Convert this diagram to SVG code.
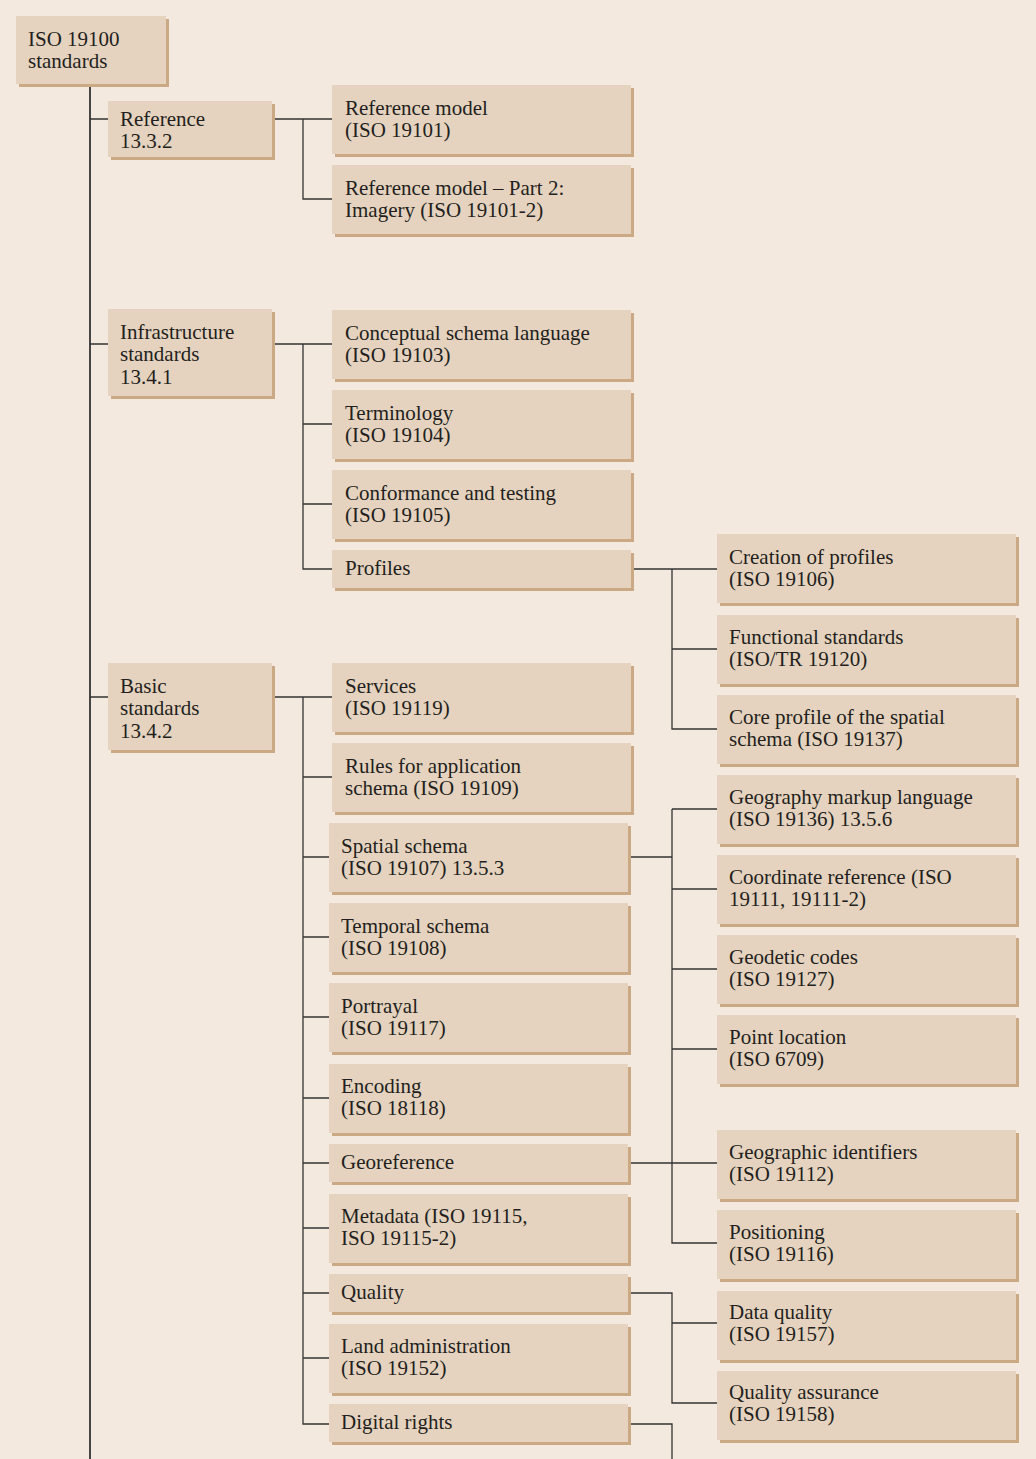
<svg xmlns="http://www.w3.org/2000/svg" width="1036" height="1459" viewBox="0 0 1036 1459">
  <style>
    .bg { fill: #f3e9df; }
    .sh { fill: #cba984; }
    .bx { fill: #e5d3bf; }
    text { font-family: "Liberation Serif", "Times New Roman", serif; font-size: 21px; fill: #231f20; }
    .ln { stroke: #333333; stroke-width: 1.3; fill: none; }
    .trunk { stroke: #333333; stroke-width: 1.8; fill: none; }
  </style>

  <rect class="bg" x="0" y="0" width="1036" height="1459"/>

  <!-- connectors -->
  <g id="connectors">
    <path class="trunk" d="M90 84 V1459"/>
    <path class="ln" d="M90 119 H108 M90 344 H108 M90 697 H108"/>
    <!-- reference branch -->
    <path class="ln" d="M272 119 H332 M303 119 V199 H332"/>
    <!-- infrastructure branch -->
    <path class="ln" d="M272 344 H332 M303 344 V569 H332 M303 424 H332 M303 504 H332"/>
    <!-- profiles branch -->
    <path class="ln" d="M631 569 H717 M672 569 V729 H717 M672 649 H717"/>
    <!-- basic branch -->
    <path class="ln" d="M272 697 H332 M303 697 V1424 H329 M303 777 H332 M303 857 H329 M303 937 H329 M303 1017 H329 M303 1098 H329 M303 1163 H329 M303 1228 H329 M303 1293 H329 M303 1358 H329"/>
    <!-- spatial / georeference branch -->
    <path class="ln" d="M628 857 H672 M672 809 V1243 H717 M672 809 H717 M672 889 H717 M672 969 H717 M672 1049 H717 M628 1163 H717"/>
    <!-- quality branch -->
    <path class="ln" d="M628 1293 H672 V1403 H717 M672 1323 H717"/>
    <!-- digital rights branch -->
    <path class="ln" d="M628 1424 H672 V1459"/>
  </g>

  <!-- root -->
  <g id="n-root">
    <rect class="sh" x="19" y="19" width="150" height="68"/>
    <rect class="bx" x="16" y="16" width="150" height="68"/>
    <text x="28" y="46">ISO 19100</text>
    <text x="28" y="68">standards</text>
  </g>

  <!-- first level -->
  <g id="n-reference">
    <rect class="sh" x="111" y="104" width="164" height="56"/>
    <rect class="bx" x="108" y="101" width="164" height="56"/>
    <text x="120" y="126">Reference</text>
    <text x="120" y="148">13.3.2</text>
  </g>
  <g id="n-infrastructure">
    <rect class="sh" x="111" y="312" width="164" height="87"/>
    <rect class="bx" x="108" y="309" width="164" height="87"/>
    <text x="120" y="339">Infrastructure</text>
    <text x="120" y="361">standards</text>
    <text x="120" y="384">13.4.1</text>
  </g>
  <g id="n-basic">
    <rect class="sh" x="111" y="666" width="164" height="87"/>
    <rect class="bx" x="108" y="663" width="164" height="87"/>
    <text x="120" y="693">Basic</text>
    <text x="120" y="715">standards</text>
    <text x="120" y="738">13.4.2</text>
  </g>

  <!-- reference children -->
  <g id="n-19101">
    <rect class="sh" x="335" y="88" width="299" height="69"/>
    <rect class="bx" x="332" y="85" width="299" height="69"/>
    <text x="345" y="115">Reference model</text>
    <text x="345" y="137">(ISO 19101)</text>
  </g>
  <g id="n-19101-2">
    <rect class="sh" x="335" y="168" width="299" height="69"/>
    <rect class="bx" x="332" y="165" width="299" height="69"/>
    <text x="345" y="195">Reference model – Part 2:</text>
    <text x="345" y="217">Imagery (ISO 19101-2)</text>
  </g>

  <!-- infrastructure children -->
  <g id="n-19103">
    <rect class="sh" x="335" y="313" width="299" height="69"/>
    <rect class="bx" x="332" y="310" width="299" height="69"/>
    <text x="345" y="340">Conceptual schema language</text>
    <text x="345" y="362">(ISO 19103)</text>
  </g>
  <g id="n-19104">
    <rect class="sh" x="335" y="393" width="299" height="69"/>
    <rect class="bx" x="332" y="390" width="299" height="69"/>
    <text x="345" y="420">Terminology</text>
    <text x="345" y="442">(ISO 19104)</text>
  </g>
  <g id="n-19105">
    <rect class="sh" x="335" y="473" width="299" height="69"/>
    <rect class="bx" x="332" y="470" width="299" height="69"/>
    <text x="345" y="500">Conformance and testing</text>
    <text x="345" y="522">(ISO 19105)</text>
  </g>
  <g id="n-profiles">
    <rect class="sh" x="335" y="553" width="299" height="38"/>
    <rect class="bx" x="332" y="550" width="299" height="38"/>
    <text x="345" y="575">Profiles</text>
  </g>

  <!-- profiles children -->
  <g id="n-19106">
    <rect class="sh" x="720" y="537" width="299" height="69"/>
    <rect class="bx" x="717" y="534" width="299" height="69"/>
    <text x="729" y="564">Creation of profiles</text>
    <text x="729" y="586">(ISO 19106)</text>
  </g>
  <g id="n-19120">
    <rect class="sh" x="720" y="618" width="299" height="69"/>
    <rect class="bx" x="717" y="615" width="299" height="69"/>
    <text x="729" y="644">Functional standards</text>
    <text x="729" y="666">(ISO/TR 19120)</text>
  </g>
  <g id="n-19137">
    <rect class="sh" x="720" y="698" width="299" height="69"/>
    <rect class="bx" x="717" y="695" width="299" height="69"/>
    <text x="729" y="724">Core profile of the spatial</text>
    <text x="729" y="746">schema (ISO 19137)</text>
  </g>

  <!-- basic children -->
  <g id="n-19119">
    <rect class="sh" x="335" y="666" width="299" height="69"/>
    <rect class="bx" x="332" y="663" width="299" height="69"/>
    <text x="345" y="693">Services</text>
    <text x="345" y="715">(ISO 19119)</text>
  </g>
  <g id="n-19109">
    <rect class="sh" x="335" y="746" width="299" height="69"/>
    <rect class="bx" x="332" y="743" width="299" height="69"/>
    <text x="345" y="773">Rules for application</text>
    <text x="345" y="795">schema (ISO 19109)</text>
  </g>
  <g id="n-19107">
    <rect class="sh" x="332" y="826" width="299" height="69"/>
    <rect class="bx" x="329" y="823" width="299" height="69"/>
    <text x="341" y="853">Spatial schema</text>
    <text x="341" y="875">(ISO 19107) 13.5.3</text>
  </g>
  <g id="n-19108">
    <rect class="sh" x="332" y="906" width="299" height="69"/>
    <rect class="bx" x="329" y="903" width="299" height="69"/>
    <text x="341" y="933">Temporal schema</text>
    <text x="341" y="955">(ISO 19108)</text>
  </g>
  <g id="n-19117">
    <rect class="sh" x="332" y="986" width="299" height="69"/>
    <rect class="bx" x="329" y="983" width="299" height="69"/>
    <text x="341" y="1013">Portrayal</text>
    <text x="341" y="1035">(ISO 19117)</text>
  </g>
  <g id="n-18118">
    <rect class="sh" x="332" y="1067" width="299" height="69"/>
    <rect class="bx" x="329" y="1064" width="299" height="69"/>
    <text x="341" y="1093">Encoding</text>
    <text x="341" y="1115">(ISO 18118)</text>
  </g>
  <g id="n-georeference">
    <rect class="sh" x="332" y="1147" width="299" height="38"/>
    <rect class="bx" x="329" y="1144" width="299" height="38"/>
    <text x="341" y="1169">Georeference</text>
  </g>
  <g id="n-19115">
    <rect class="sh" x="332" y="1197" width="299" height="69"/>
    <rect class="bx" x="329" y="1194" width="299" height="69"/>
    <text x="341" y="1223">Metadata (ISO 19115,</text>
    <text x="341" y="1245">ISO 19115-2)</text>
  </g>
  <g id="n-quality">
    <rect class="sh" x="332" y="1277" width="299" height="38"/>
    <rect class="bx" x="329" y="1274" width="299" height="38"/>
    <text x="341" y="1299">Quality</text>
  </g>
  <g id="n-19152">
    <rect class="sh" x="332" y="1327" width="299" height="69"/>
    <rect class="bx" x="329" y="1324" width="299" height="69"/>
    <text x="341" y="1353">Land administration</text>
    <text x="341" y="1375">(ISO 19152)</text>
  </g>
  <g id="n-digital-rights">
    <rect class="sh" x="332" y="1407" width="299" height="38"/>
    <rect class="bx" x="329" y="1404" width="299" height="38"/>
    <text x="341" y="1429">Digital rights</text>
  </g>

  <!-- spatial / georeference children -->
  <g id="n-19136">
    <rect class="sh" x="720" y="778" width="299" height="69"/>
    <rect class="bx" x="717" y="775" width="299" height="69"/>
    <text x="729" y="804">Geography markup language</text>
    <text x="729" y="826">(ISO 19136) 13.5.6</text>
  </g>
  <g id="n-19111">
    <rect class="sh" x="720" y="858" width="299" height="69"/>
    <rect class="bx" x="717" y="855" width="299" height="69"/>
    <text x="729" y="884">Coordinate reference (ISO</text>
    <text x="729" y="906">19111, 19111-2)</text>
  </g>
  <g id="n-19127">
    <rect class="sh" x="720" y="938" width="299" height="69"/>
    <rect class="bx" x="717" y="935" width="299" height="69"/>
    <text x="729" y="964">Geodetic codes</text>
    <text x="729" y="986">(ISO 19127)</text>
  </g>
  <g id="n-6709">
    <rect class="sh" x="720" y="1018" width="299" height="69"/>
    <rect class="bx" x="717" y="1015" width="299" height="69"/>
    <text x="729" y="1044">Point location</text>
    <text x="729" y="1066">(ISO 6709)</text>
  </g>
  <g id="n-19112">
    <rect class="sh" x="720" y="1133" width="299" height="69"/>
    <rect class="bx" x="717" y="1130" width="299" height="69"/>
    <text x="729" y="1159">Geographic identifiers</text>
    <text x="729" y="1181">(ISO 19112)</text>
  </g>
  <g id="n-19116">
    <rect class="sh" x="720" y="1213" width="299" height="69"/>
    <rect class="bx" x="717" y="1210" width="299" height="69"/>
    <text x="729" y="1239">Positioning</text>
    <text x="729" y="1261">(ISO 19116)</text>
  </g>

  <!-- quality children -->
  <g id="n-19157">
    <rect class="sh" x="720" y="1294" width="299" height="69"/>
    <rect class="bx" x="717" y="1291" width="299" height="69"/>
    <text x="729" y="1319">Data quality</text>
    <text x="729" y="1341">(ISO 19157)</text>
  </g>
  <g id="n-19158">
    <rect class="sh" x="720" y="1374" width="299" height="69"/>
    <rect class="bx" x="717" y="1371" width="299" height="69"/>
    <text x="729" y="1399">Quality assurance</text>
    <text x="729" y="1421">(ISO 19158)</text>
  </g>
</svg>
